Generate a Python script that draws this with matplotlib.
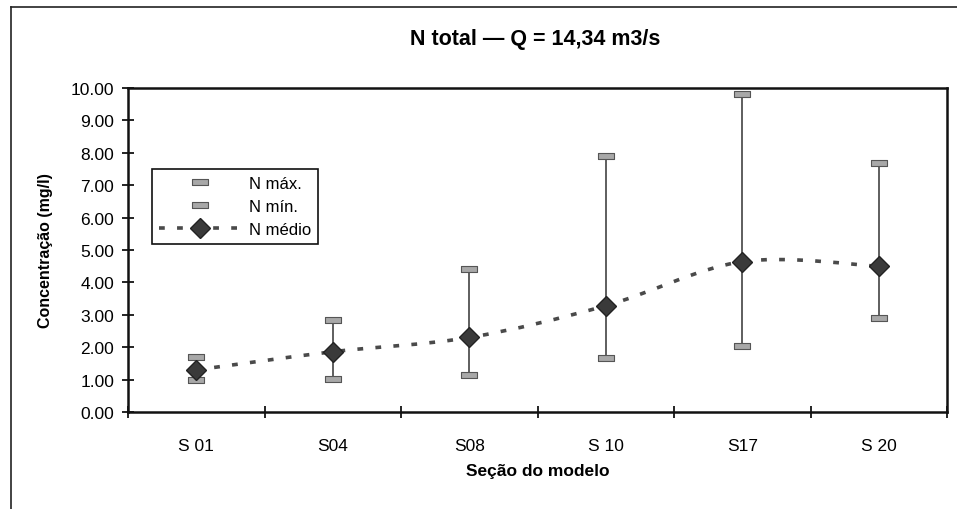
import numpy as np
import matplotlib.pyplot as plt
from matplotlib.path import Path
from matplotlib.patches import PathPatch
from matplotlib.lines import Line2D

plt.rcParams['font.family'] = ['Liberation Sans', 'DejaVu Sans']

# data
secoes = ['S 01', 'S04', 'S08', 'S 10', 'S17', 'S 20']
n_max = [1.70, 2.84, 4.41, 7.90, 9.80, 7.70]
n_min = [0.99, 1.02, 1.15, 1.67, 2.05, 2.89]
n_medio = [1.30, 1.86, 2.30, 3.28, 4.64, 4.50]

x = np.arange(len(secoes))

fig = plt.figure(figsize=(9.57, 5.10), dpi=100)
ax = fig.add_axes([128/957, 1-413/510, (947-128)/957, (413-89)/510])

# outer frame (only top and left visible in the scan)
fig.add_artist(Line2D([11/957, 1], [1-8/510, 1-8/510], color='#222', lw=1.2, transform=fig.transFigure))
fig.add_artist(Line2D([11/957, 11/957], [0, 1-8/510], color='#222', lw=1.2, transform=fig.transFigure))

# error bars: thin vertical lines + rectangular caps
cap = [(-1, -0.34), (1, -0.34), (1, 0.34), (-1, 0.34), (-1, -0.34)]
ax.vlines(x, n_min, n_max, color='#333', lw=1.1, zorder=2)
ax.plot(x, n_max, ls='none', marker=cap, ms=11, mfc='#a8a8a8', mec='#555', mew=0.8, zorder=3)
ax.plot(x, n_min, ls='none', marker=cap, ms=11, mfc='#a8a8a8', mec='#555', mew=0.8, zorder=3)

# smoothed mean line (Bezier through the means, like Excel's smoothing)
pts = np.column_stack([x, n_medio])
verts = [tuple(pts[0])]
codes = [Path.MOVETO]
for i in range(len(pts) - 1):
    p0 = pts[i - 1] if i > 0 else pts[i]
    p1 = pts[i]
    p2 = pts[i + 1]
    p3 = pts[i + 2] if i + 2 < len(pts) else pts[i + 1]
    c1 = p1 + (p2 - p0) / 6
    c2 = p2 - (p3 - p1) / 6
    verts += [tuple(c1), tuple(c2), tuple(p2)]
    codes += [Path.CURVE4] * 3
curve = PathPatch(Path(verts, codes), fill=False, ec='#4a4a4a', lw=2.6,
                  ls=(0, (1.6, 3.4)), zorder=2)
ax.add_patch(curve)
ax.plot(x, n_medio, ls='none', marker='D', ms=10, mfc='#3a3a3a', mec='#222', zorder=4)

ax.set_xlim(-0.5, 5.5)
ax.set_ylim(0, 10)
ax.set_yticks(np.arange(0, 11, 1))
ax.set_yticklabels(['%.2f' % v for v in np.arange(0, 11, 1)], fontsize=12.5)
ax.set_xticks(x)
ax.set_xticklabels(secoes, fontsize=12.5)
ax.set_xticks(np.arange(-0.5, 6, 1), minor=True)
ax.tick_params(axis='x', which='major', length=0, pad=19)
ax.tick_params(axis='x', which='minor', length=8, direction='inout', width=1.2)
ax.tick_params(axis='y', length=8, direction='inout', width=1.2, pad=6)
for s in ax.spines.values():
    s.set_linewidth(1.8)
    s.set_color('#111')

ax.set_ylabel('Concentração (mg/l)', fontsize=11.5, fontweight='bold', labelpad=13)
ax.set_xlabel('Seção do modelo', fontsize=12.5, fontweight='bold', labelpad=7)
fig.text(535/957, 1-40/510, 'N total — Q = 14,34 m3/s', ha='center', va='center',
         fontsize=15.5, fontweight='bold')

handles = [
    Line2D([], [], ls='none', marker=cap, ms=11, mfc='#a8a8a8', mec='#555', mew=0.8),
    Line2D([], [], ls='none', marker=cap, ms=11, mfc='#a8a8a8', mec='#555', mew=0.8),
    Line2D([], [], color='#4a4a4a', lw=2.6, ls=(0, (1.6, 3.4)), marker='D', ms=10,
           mfc='#3a3a3a', mec='#222'),
]
leg = fig.legend(handles, ['N máx.', 'N mín.', 'N médio'], loc='upper left',
                 bbox_to_anchor=(152/957, 1-170/510), borderaxespad=0,
                 fontsize=12, fancybox=False, framealpha=1, edgecolor='#111',
                 handlelength=5, labelspacing=0.5, handletextpad=0.4)
leg.get_frame().set_linewidth(1.2)

fig.savefig('out.png', dpi=100)
